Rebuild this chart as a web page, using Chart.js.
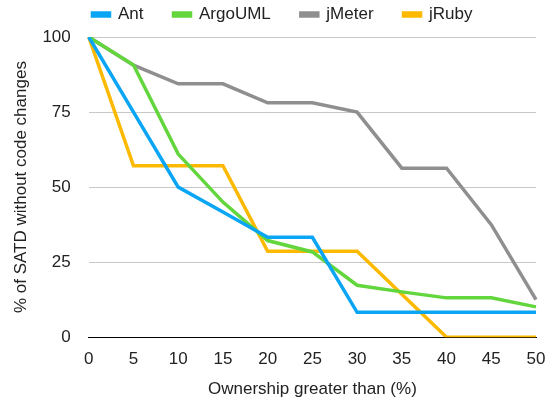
<!DOCTYPE html>
<html>
<head>
<meta charset="utf-8">
<script src="https://cdn.jsdelivr.net/npm/chart.js@4"></script>
<style>
  body { margin: 0; background: #fff; }
  #wrap { width: 552px; height: 407px; }
</style>
</head>
<body>
<div id="wrap"><canvas id="chart"></canvas></div>
<script>
// Ownership thresholds (%)
const ownership = ['0', '5', '10', '15', '20', '25', '30', '35', '40', '45', '50'];

// % of SATD without code changes, per project
const ant = [100, 75, 50, 41.7, 33.3, 33.3, 8.3, 8.3, 8.3, 8.3, 8.3];
const argoUML = [100, 90.7, 61, 45, 32.2, 28.4, 17.3, 15.1, 13.1, 13.1, 10.1];
const jMeter = [100, 90.6, 84.4, 84.4, 78.1, 78.1, 75, 56.3, 56.3, 37.5, 12.5];
const jRuby = [100, 57.1, 57.1, 57.1, 28.6, 28.6, 28.6, 14.3, 0, 0, 0];

const yTicks = [0, 25, 50, 75, 100];

const font = { family: 'Liberation Sans, Arial, Helvetica, sans-serif', size: 17 };

function series(label, data, color) {
  return {
    label: label,
    data: data,
    borderColor: color,
    backgroundColor: color,
    borderWidth: 3.5,
    pointRadius: 0,
    tension: 0
  };
}

// legend sits close to the top, a bit right of centre, with a gap above the plot
const legendTweak = {
  id: 'legendTweak',
  beforeLayout(chart) {
    const legend = chart.legend;
    if (legend && !legend._patched) {
      const fit = legend.fit;
      const draw = legend.draw;
      legend.fit = function () { fit.call(this); this.height += 4; };
      legend.draw = function () {
        this.ctx.save();
        this.ctx.translate(9, 0);
        draw.call(this);
        this.ctx.restore();
      };
      legend._patched = true;
    }
  }
};

const ctx = document.getElementById('chart').getContext('2d');
const chart = new Chart(ctx, {
  type: 'line',
  data: {
    labels: ownership,
    datasets: [
      series('Ant', ant, '#0aa6f5'),
      series('ArgoUML', argoUML, '#62d63c'),
      series('jMeter', jMeter, '#8f8f8f'),
      series('jRuby', jRuby, '#fcb900')
    ]
  },
  plugins: [legendTweak],
  options: {
    responsive: true,
    maintainAspectRatio: false,
    animation: false,
    layout: { padding: { left: 11, right: 16, top: -24, bottom: 3 } },
    plugins: {
      tooltip: { enabled: false },
      legend: {
        position: 'top',
        labels: {
          font: font,
          color: '#222',
          boxWidth: 17,
          boxHeight: 3,
          padding: 30
        }
      }
    },
    scales: {
      x: {
        type: 'category',
        offset: false,
        grid: { display: false },
        border: { display: true, color: '#000', width: 1 },
        ticks: { font: font, color: '#222', maxRotation: 0, autoSkip: false, padding: 4 },
        title: { display: true, text: 'Ownership greater than (%)', font: font, color: '#222', padding: { top: 6, bottom: 4 } }
      },
      y: {
        min: 0,
        max: 100,
        afterBuildTicks: (axis) => { axis.ticks = yTicks.map(v => ({ value: v })); },
        grid: { color: '#c8c8c8', drawTicks: false, lineWidth: 1 },
        border: { display: false },
        ticks: { font: font, color: '#222', padding: 18 },
        title: { display: true, text: '% of SATD without code changes', font: font, color: '#222', padding: { top: 0, bottom: -7 } }
      }
    }
  }
});
</script>
</body>
</html>
